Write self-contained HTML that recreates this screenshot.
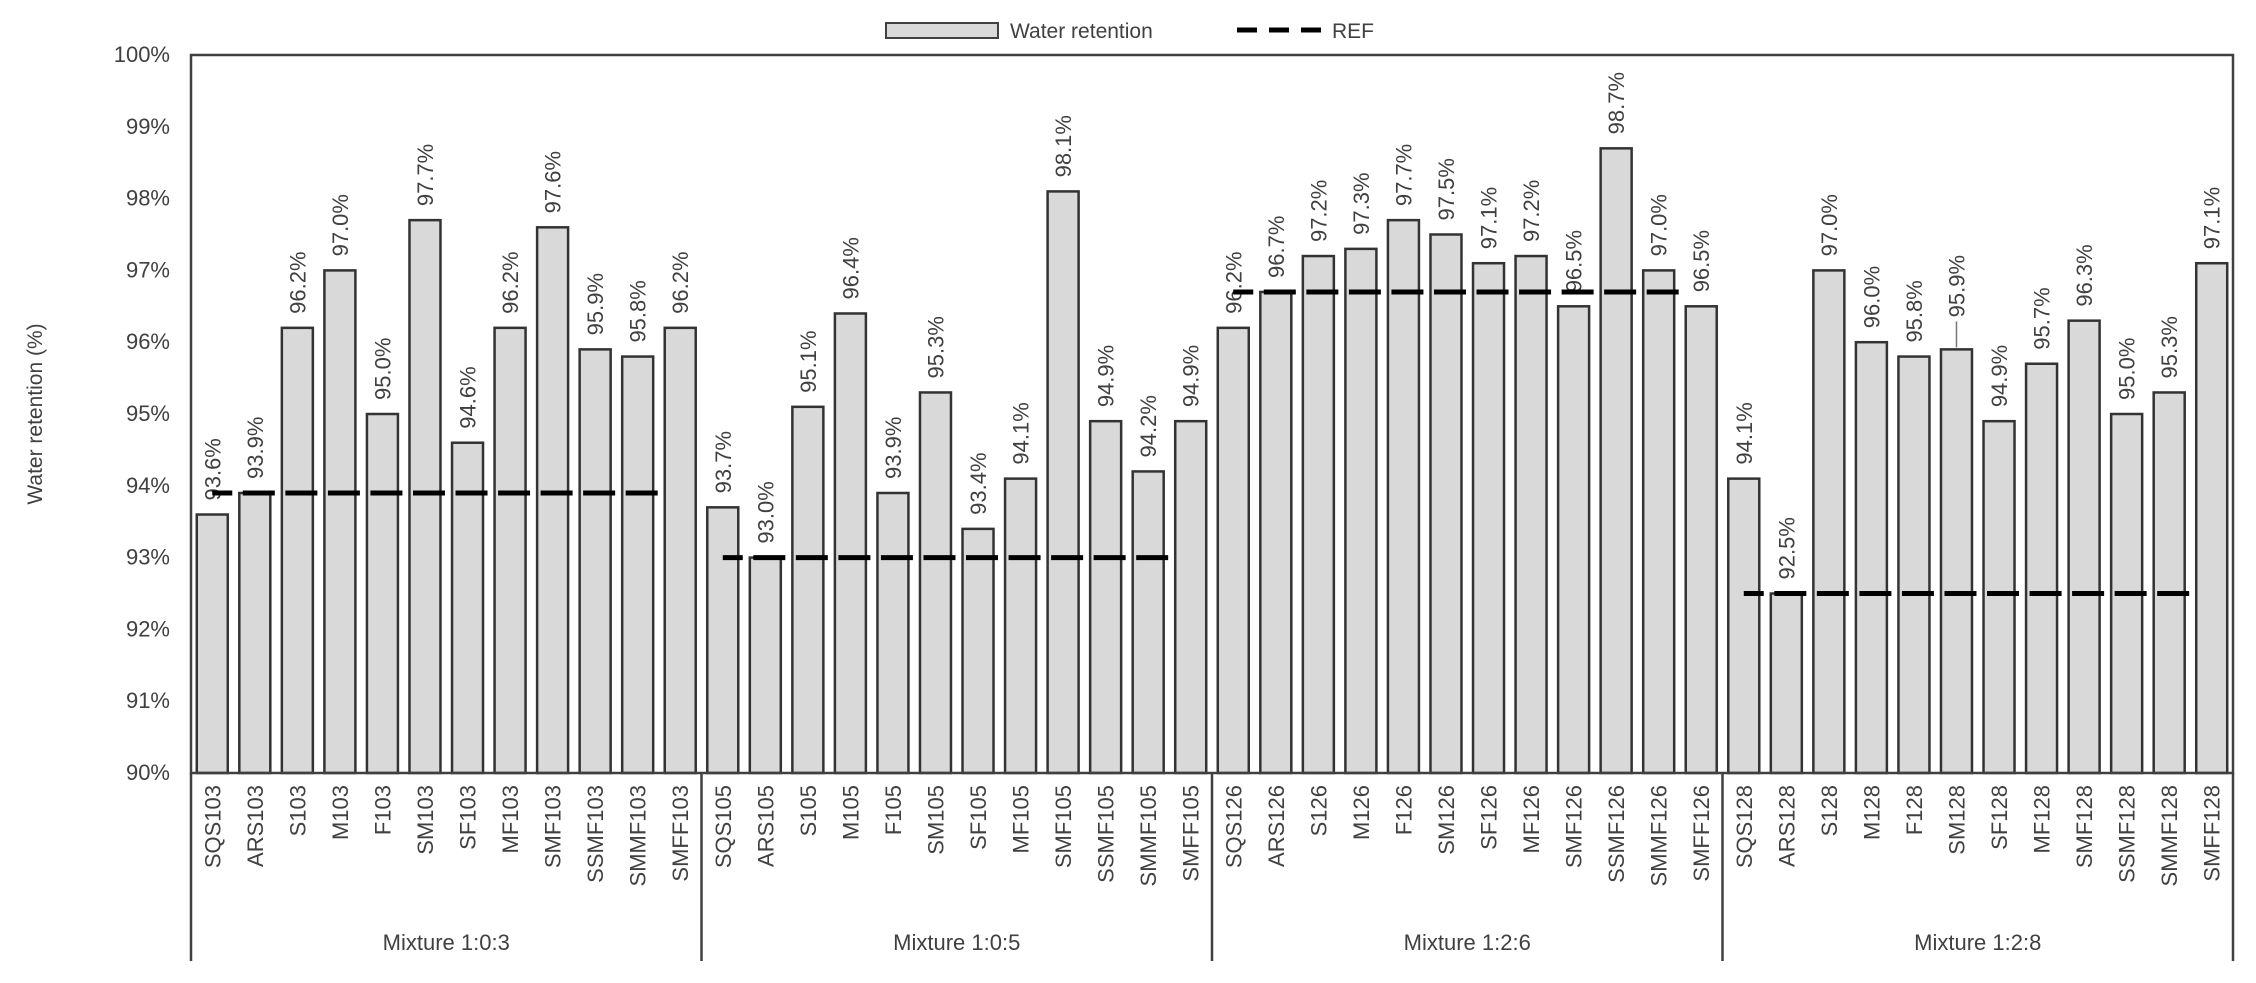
<!DOCTYPE html>
<html><head><meta charset="utf-8"><style>
html,body{margin:0;padding:0;background:#fff;}
svg{display:block;font-family:"Liberation Sans",sans-serif;}
</style></head><body>
<svg id="chart" width="2256" height="983" viewBox="0 0 2256 983" xmlns="http://www.w3.org/2000/svg">
  <g>
    <rect x="886" y="23" width="112" height="15" fill="#d9d9d9" stroke="#404040" stroke-width="2"/>
    <text x="1010" y="38" font-size="21" fill="#404040">Water retention</text>
    <line x1="1237" y1="30" x2="1322" y2="30" stroke="#000" stroke-width="5" stroke-dasharray="20,12"/>
    <text x="1332" y="38" font-size="21" fill="#404040">REF</text>
  </g>
  <text transform="translate(42,414) rotate(-90)" text-anchor="middle" font-size="21" fill="#404040">Water retention (%)</text>
  <g id="plot"></g>
</svg>
<script>
const groups = ["Mixture 1:0:3","Mixture 1:0:5","Mixture 1:2:6","Mixture 1:2:8"];
const prefixes = ["SQS","ARS","S","M","F","SM","SF","MF","SMF","SSMF","SMMF","SMFF"];
const suffixes = ["103","105","126","128"];
const values103 = [93.6,93.9,96.2,97.0,95.0,97.7,94.6,96.2,97.6,95.9,95.8,96.2];
const values105 = [93.7,93.0,95.1,96.4,93.9,95.3,93.4,94.1,98.1,94.9,94.2,94.9];
const values126 = [96.2,96.7,97.2,97.3,97.7,97.5,97.1,97.2,96.5,98.7,97.0,96.5];
const values128 = [94.1,92.5,97.0,96.0,95.8,95.9,94.9,95.7,96.3,95.0,95.3,97.1];
const refValues = [93.9,93.0,96.7,92.5];
const yTicks = [90,91,92,93,94,95,96,97,98,99,100];

const seriesByGroup = [values103,values105,values126,values128];
const NS = "http://www.w3.org/2000/svg";
const plot = document.getElementById("plot");
const L=191,R=2233,T=55,B=773,BOT=961;
const nCat = groups.length*prefixes.length;
const cw = (R-L)/nCat;
const bw = 31;
const yMin=90,yMax=100;
function y(v){return B-(v-yMin)/(yMax-yMin)*(B-T);}
function xc(i){return L+cw*(i+0.5);}
function mk(tag,attrs){const e=document.createElementNS(NS,tag);for(const k in attrs)e.setAttribute(k,attrs[k]);plot.appendChild(e);return e;}

yTicks.forEach(t=>{
  const e=mk("text",{x:170,y:y(t)+7,"text-anchor":"end","font-size":22,fill:"#404040"});
  
  
  e.textContent=t+"%";
});

seriesByGroup.forEach((vals,g)=>{
  vals.forEach((v,j)=>{
    const i=g*prefixes.length+j;
    const cx=xc(i);
    const r=mk("rect",{x:cx-bw/2,y:y(v),width:bw,height:B-y(v),fill:"#d9d9d9",stroke:"#333",'stroke-width':2.5});
    
    
    let off=14;
    if(prefixes[j]==="SM"&&g===3){off=32;
      const ll=mk("line",{x1:cx,y1:y(v)-2,x2:cx,y2:y(v)-off+4,stroke:"#777",'stroke-width':1.5});
      
      
    }
    const lt=mk("text",{transform:`translate(${cx+8},${y(v)-off}) rotate(-90)`,"font-size":22,fill:"#404040"});
    
    
    lt.textContent=v.toFixed(1)+"%";
    const ct=mk("text",{transform:`translate(${cx+8},${B+12}) rotate(-90)`,"text-anchor":"end","font-size":22,fill:"#404040"});
    
    
    ct.textContent=prefixes[j]+suffixes[g];
  });
  const ref=refValues[g];
  for(let j=0;j<11;j++){
    const i=g*prefixes.length+j;
    const c=xc(i)+4;
    const x1=j===0?xc(i):c-16;
    const d=mk("line",{x1:x1,y1:y(ref),x2:c+16,y2:y(ref),stroke:"#000",'stroke-width':5});
    
    
  }
  const gx=L+(g+0.5)*cw*prefixes.length;
  const gt=mk("text",{x:gx,y:950,"text-anchor":"middle","font-size":22,fill:"#404040"});
  
  
  gt.textContent=groups[g];
});

const fr=mk("rect",{x:L,y:T,width:R-L,height:B-T,fill:"none",stroke:"#404040",'stroke-width':2.5});


for(let g=0;g<=groups.length;g++){
  const x=L+g*cw*prefixes.length;
  const ln=mk("line",{x1:x,y1:B,x2:x,y2:BOT,stroke:"#404040",'stroke-width':2.5});
  
  
}
</script>
</body></html>
